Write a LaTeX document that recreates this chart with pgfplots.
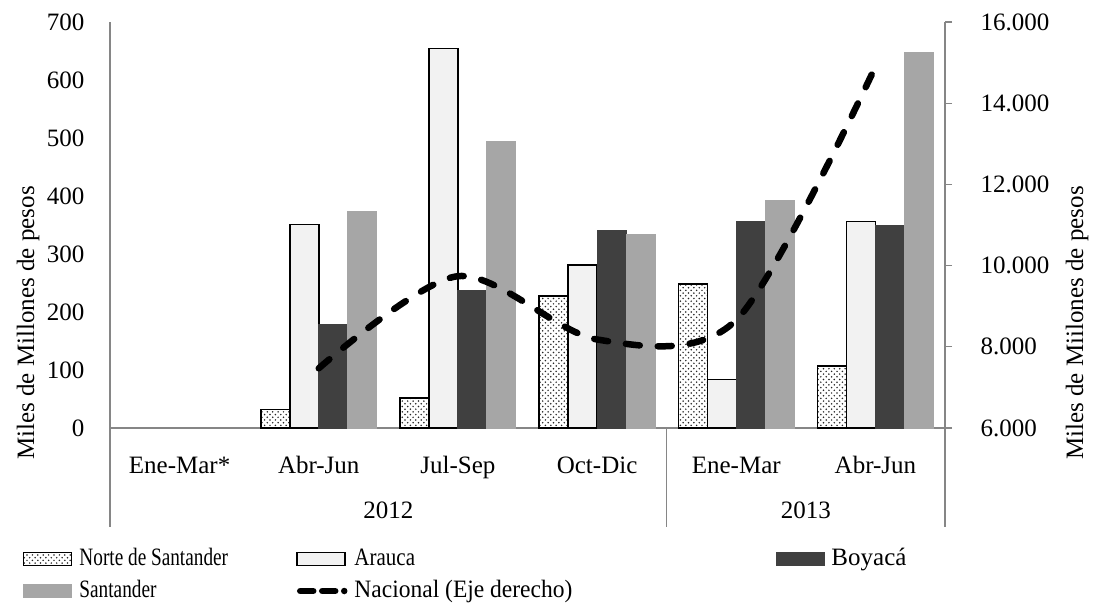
\documentclass[border=0pt]{standalone}
\usepackage{fontspec}
\setmainfont{Liberation Serif}
\usepackage{graphicx}
\usepackage{pgfplots}
\usepackage{pgfplotstable}
\pgfplotsset{compat=1.18}
\usetikzlibrary{patterns}
\definecolor{arauca}{HTML}{F2F2F2}
\definecolor{boyaca}{HTML}{404040}
\definecolor{santander}{HTML}{A6A6A6}
\definecolor{axgray}{HTML}{868686}
\pgfdeclarepatternformonly{mydots}{\pgfqpoint{-1pt}{-1pt}}{\pgfqpoint{4pt}{4pt}}{\pgfqpoint{5.4pt}{5.4pt}}{%
  \pgfpathcircle{\pgfqpoint{0pt}{0pt}}{0.85pt}%
  \pgfpathcircle{\pgfqpoint{2.7pt}{2.7pt}}{0.85pt}%
  \pgfusepath{fill}}
\pgfplotsset{
  ndsbar/.style={draw=black, line width=1.5pt, fill=white, postaction={pattern=mydots, pattern color=black!85}},
  araucabar/.style={draw=black, line width=1.5pt, fill=arauca},
  boyacabar/.style={draw=boyaca, line width=0pt, fill=boyaca},
  santanderbar/.style={draw=santander, line width=0pt, fill=santander},
  barleg/.style={legend image code/.code={\draw[##1] (0pt,-6.5pt) rectangle (48pt,6.5pt);}},
  lineleg/.style={legend image code/.code={\draw[##1, dash pattern=on 13pt off 9pt] (3pt,0pt) -- (47pt,0pt);}},
}
\pgfplotstableread{
x nds arauca boyaca santander
1 32 351 179 373
2 52 654 237 494
3 228 281 340 333
4 248 84 356 393
5 107 356 350 648
}\bardata
\pgfplotstableread{
x nac
1 7470
2 9740
3 8180
4 8660
5 14900
}\nacdata
\begin{document}
\fontsize{25}{30}\selectfont
\begin{tikzpicture}
\path[use as bounding box] (0,0) rectangle (1095pt,-609pt);
\begin{axis}[
  at={(110pt,-428pt)}, anchor=south west,
  scale only axis, width=835pt, height=406pt,
  xmin=-0.5, xmax=5.5, ymin=0, ymax=700,
  ybar=0pt, bar width=29pt,
  axis x line*=bottom, axis y line*=left,
  axis line style={-, draw=axgray, line width=1.2pt},
  xtick={0,...,5},
  xticklabels={Ene-Mar*,Abr-Jun,Jul-Sep,Oct-Dic,Ene-Mar,Abr-Jun},
  xticklabel style={anchor=base, yshift=-45pt},
  extra x ticks={1.5,4.5}, extra x tick labels={2012,2013},
  extra x tick style={xticklabel style={yshift=-45pt}},
  ytick={0,100,...,700},
  yticklabels={0,100,200,300,400,500,600,700},
  yticklabel style={xshift=-17pt},
  major tick length=0pt,
  scaled y ticks=false,
  clip=false,
]
\addplot[ndsbar] table[x=x,y=nds]{\bardata};
\addplot[araucabar] table[x=x,y=arauca]{\bardata};
\addplot[boyacabar] table[x=x,y=boyaca]{\bardata};
\addplot[santanderbar] table[x=x,y=santander]{\bardata};
\draw[axgray, line width=1.2pt] (axis cs:-0.5,0) -- ++(0pt,-99pt);
\draw[axgray, line width=1.2pt] (axis cs:3.5,0) -- ++(0pt,-99pt);
\draw[axgray, line width=1.2pt] (axis cs:5.5,0) -- ++(0pt,-99pt);
\end{axis}
\begin{axis}[
  at={(110pt,-428pt)}, anchor=south west,
  scale only axis, width=835pt, height=406pt,
  xmin=-0.5, xmax=5.5, ymin=6000, ymax=16000,
  axis x line=none, axis y line*=right,
  axis line style={-, draw=axgray, line width=1.2pt},
  ytick={6000,8000,...,16000},
  yticklabels={6.000,8.000,10.000,12.000,14.000,16.000},
  scaled y ticks=false,
  tick align=outside, major tick length=7pt,
  tick style={axgray, line width=1.2pt},
  yticklabel style={xshift=20pt},
  clip=false,
  legend columns=3, legend cell align=left,
  legend style={draw=none, fill=none, at={(-0.1042,-0.2931)}, anchor=north west,
    inner sep=0pt, outer sep=0pt, row sep=8pt,
    nodes={inner sep=0pt, text height=18pt, text depth=6pt},
    /tikz/every even column/.append style={column sep=0pt}},
]
\addlegendimage{ndsbar, barleg}
\addlegendimage{araucabar, barleg}
\addlegendimage{boyacabar, barleg}
\addlegendimage{santanderbar, barleg}
\addplot[black, line width=6.5pt, line cap=round, dash pattern=on 14pt off 18pt,
  smooth, tension=0.5, lineleg]
  table[x=x,y=nac]{\nacdata};
\legend{{\hspace*{7pt}\makebox[217pt][l]{\scalebox{0.77}[1]{Norte de Santander}}},
  {\hspace*{7pt}\makebox[422pt][l]{\scalebox{0.84}[1]{Arauca}}},
  {\hspace*{7pt}\makebox[100pt][l]{Boyacá}},
  {\hspace*{7pt}\makebox[217pt][l]{\scalebox{0.77}[1]{Santander}}},
  {\hspace*{7pt}\makebox[422pt][l]{\scalebox{0.94}[1]{Nacional (Eje derecho)}}}}
\end{axis}
\node[rotate=90] at (28pt,-323pt) {Miles de Millones de pesos};
\node[rotate=90] at (1077pt,-323pt) {Miles de Miilones de pesos};
\end{tikzpicture}
\end{document}
